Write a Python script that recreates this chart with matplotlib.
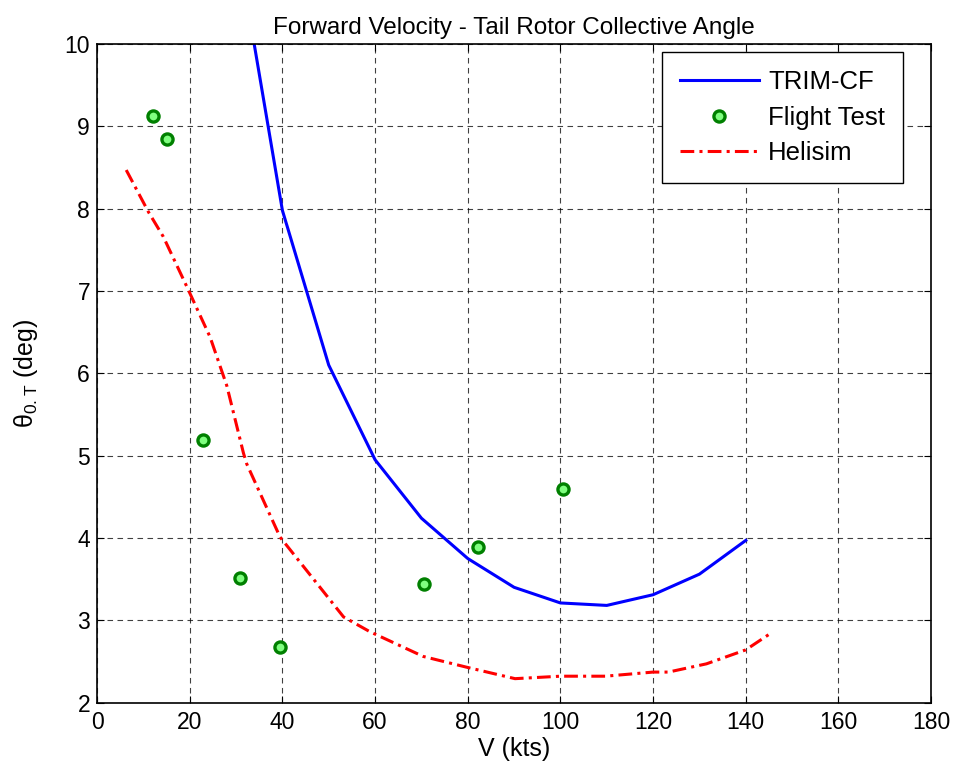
import matplotlib.pyplot as plt

# TRIM-CF prediction
trim_v = [30, 40, 50, 60, 70, 80, 90, 100, 110, 120, 130, 140]
trim_theta = [11.3, 7.98, 6.10, 4.95, 4.24, 3.75, 3.40, 3.21, 3.18, 3.31, 3.56, 3.97]

# flight test data
test_v = [12.0, 15.0, 22.9, 30.9, 39.5, 70.6, 82.3, 100.6]
test_theta = [9.13, 8.85, 5.19, 3.51, 2.68, 3.44, 3.89, 4.60]

# Helisim prediction
heli_v = [6.3, 11.1, 14.3, 19.4, 24.4, 28.0, 31.6, 32.3, 39.5, 46.0, 53.2, 58.9,
          70.4, 79.7, 90.2, 100, 109.7, 120, 123.3, 131.5, 140, 145.6]
heli_theta = [8.47, 7.96, 7.66, 7.05, 6.44, 5.85, 5.03, 4.90, 4.01, 3.55, 3.04, 2.86,
              2.56, 2.43, 2.29, 2.32, 2.32, 2.37, 2.37, 2.47, 2.64, 2.85]

plt.rcParams['font.family'] = ['Liberation Sans', 'DejaVu Sans']
plt.rcParams['mathtext.default'] = 'regular'

fig = plt.figure(figsize=(9.56, 7.71), dpi=100)
ax = fig.add_axes([0.1015, 0.0888, 0.8725, 0.854])

ax.plot(trim_v, trim_theta, color='blue', linewidth=2.2, label='TRIM-CF')
ax.plot(test_v, test_theta, linestyle='none', marker='o', markersize=8,
        markerfacecolor='#80ff80', markeredgecolor='#008000', markeredgewidth=2.4,
        label='Flight Test')
ax.plot(heli_v, heli_theta, color='red', linewidth=2.2, linestyle=(0, (4.5, 1.7, 1.0, 1.7)),
        label='Helisim')

ax.set_xlim(0, 180)
ax.set_ylim(2, 10)
ax.set_xticks(range(0, 181, 20))
ax.set_yticks(range(2, 11))
ax.grid(True, color='black', linestyle=(0, (5, 4)), linewidth=0.8, alpha=0.75)
ax.tick_params(direction='in', top=True, right=True, labelsize=16.5, length=5)
ax.tick_params(axis='x', pad=6)
ax.tick_params(axis='y', pad=5)
for s in ax.spines.values():
    s.set_linewidth(1.2)

ax.set_title('Forward Velocity - Tail Rotor Collective Angle', fontsize=17.5, pad=7)
ax.set_xlabel('V (kts)', fontsize=18, labelpad=2)
ax.set_ylabel('θ$_{0.T}$ (deg)', fontsize=18, labelpad=18)

leg = ax.legend(loc='upper right', bbox_to_anchor=(0.9664, 0.9879), fontsize=18.5,
                fancybox=False, framealpha=1, edgecolor='black', borderaxespad=0,
                handlelength=3.1, handletextpad=0.35, labelspacing=0.45, borderpad=0.7)
leg.get_frame().set_linewidth(1.0)

fig.savefig('out.png', dpi=100)
